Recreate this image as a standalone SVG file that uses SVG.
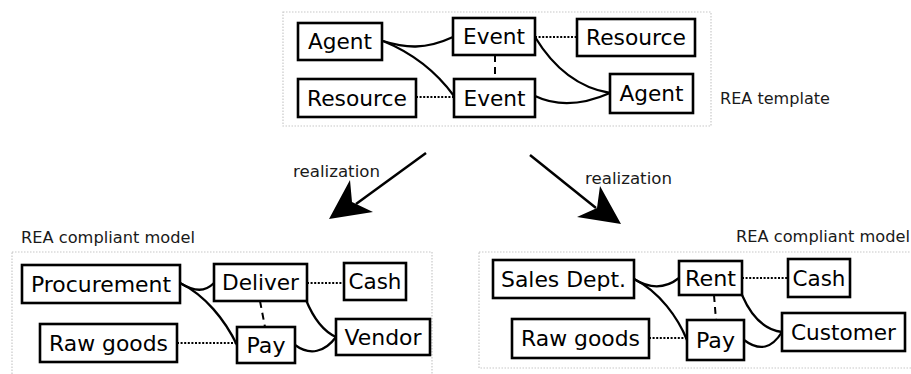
<svg xmlns="http://www.w3.org/2000/svg" width="911" height="374" viewBox="0 0 911 374">
  <style>
    .frame { fill: none; stroke: #c8c8c8; stroke-width: 1.2; stroke-dasharray: 1.5 1.5; }
    .box rect { fill: #fff; stroke: #000; stroke-width: 2.6; }
    .box text { font-family: "DejaVu Sans", Verdana, sans-serif; font-size: 21px; text-anchor: middle; fill: #000; }
    .lbl { font-family: "DejaVu Sans", Verdana, sans-serif; font-size: 15px; fill: #1a1a1a; }
    .rel { fill: none; stroke: #000; stroke-width: 2.3; }
    .res { fill: none; stroke: #000; stroke-width: 2; stroke-dasharray: 2 1.6; }
    .dup { fill: none; stroke: #000; stroke-width: 2; stroke-dasharray: 7 5; }
    .arr { fill: none; stroke: #000; stroke-width: 2.5; }
  </style>

  <!-- group frames -->
  <rect class="frame" x="283" y="12" width="428" height="114"/>
  <rect class="frame" x="12" y="252" width="420" height="130"/>
  <rect class="frame" x="479" y="252" width="440" height="116"/>

  <!-- captions -->
  <text class="lbl" x="720" y="104" textLength="110" lengthAdjust="spacingAndGlyphs">REA template</text>
  <text class="lbl" x="293" y="177" textLength="87" lengthAdjust="spacingAndGlyphs">realization</text>
  <text class="lbl" x="585" y="184" textLength="87" lengthAdjust="spacingAndGlyphs">realization</text>
  <text class="lbl" x="21" y="243" textLength="174" lengthAdjust="spacingAndGlyphs">REA compliant model</text>
  <text class="lbl" x="736" y="242" textLength="174" lengthAdjust="spacingAndGlyphs">REA compliant model</text>

  <!-- connectors -->
  <g id="connectors">
    <!-- template -->
    <path class="rel" d="M383,41 C405,48 425,50 453,37"/>
    <path class="rel" d="M383,41 C410,52 435,70 454,96"/>
    <path class="rel" d="M535,37 C555,70 580,88 610,93"/>
    <path class="rel" d="M535,96 C560,108 585,104 610,93"/>
    <path class="res" d="M535,37 H577"/>
    <path class="res" d="M416,97 H454"/>
    <path class="dup" d="M495,55 V79"/>

    <!-- procurement model -->
    <path class="rel" d="M180,283 C195,292 205,292 214,283"/>
    <path class="rel" d="M180,283 C205,295 225,320 237,345"/>
    <path class="rel" d="M306,300 C315,322 325,332 336,337"/>
    <path class="rel" d="M295,345 C310,356 325,352 336,337"/>
    <path class="res" d="M307,283 H344"/>
    <path class="res" d="M177,343 H237"/>
    <path class="dup" d="M260,301 L265,327"/>

    <!-- rental model -->
    <path class="rel" d="M634,279 C650,289 665,289 679,278"/>
    <path class="rel" d="M634,279 C660,292 678,318 687,340"/>
    <path class="rel" d="M742,295 C752,318 765,330 782,332"/>
    <path class="rel" d="M744,340 C760,352 772,348 782,332"/>
    <path class="res" d="M742,278 H788"/>
    <path class="res" d="M649,338 H687"/>
    <path class="dup" d="M714,295 L716,320"/>

    <!-- realization arrows -->
    <path class="arr" d="M426,153 L356,204"/>
    <path d="M329,219 L350,180 L352,202 L373,212 Z" fill="#000"/>
    <path class="arr" d="M530,155 L596,208"/>
    <path d="M621,224 L600,186 L597,208 L577,217 Z" fill="#000"/>
  </g>

  <!-- template nodes -->
  <g id="agent-top" class="box"><rect x="298" y="23" width="84" height="37"/><text x="340" y="49" textLength="64" lengthAdjust="spacingAndGlyphs">Agent</text></g>
  <g id="event-top" class="box"><rect x="453" y="18" width="82" height="37"/><text x="494" y="44" textLength="62" lengthAdjust="spacingAndGlyphs">Event</text></g>
  <g id="resource-top" class="box"><rect x="577" y="19" width="118" height="37"/><text x="636" y="45" textLength="100" lengthAdjust="spacingAndGlyphs">Resource</text></g>
  <g id="resource-bottom" class="box"><rect x="298" y="79" width="118" height="38"/><text x="357" y="106" textLength="100" lengthAdjust="spacingAndGlyphs">Resource</text></g>
  <g id="event-bottom" class="box"><rect x="454" y="79" width="81" height="38"/><text x="494.5" y="106" textLength="62" lengthAdjust="spacingAndGlyphs">Event</text></g>
  <g id="agent-bottom" class="box"><rect x="610" y="74" width="83" height="39"/><text x="651.5" y="101" textLength="64" lengthAdjust="spacingAndGlyphs">Agent</text></g>

  <!-- procurement model nodes -->
  <g id="procurement" class="box"><rect x="22" y="265" width="158" height="38"/><text x="101" y="292" textLength="140" lengthAdjust="spacingAndGlyphs">Procurement</text></g>
  <g id="deliver" class="box"><rect x="214" y="264" width="93" height="37"/><text x="260.5" y="290" textLength="77" lengthAdjust="spacingAndGlyphs">Deliver</text></g>
  <g id="cash-left" class="box"><rect x="344" y="263" width="62" height="37"/><text x="375" y="289" textLength="53" lengthAdjust="spacingAndGlyphs">Cash</text></g>
  <g id="raw-goods-left" class="box"><rect x="40" y="324" width="137" height="38"/><text x="108.5" y="351" textLength="119" lengthAdjust="spacingAndGlyphs">Raw goods</text></g>
  <g id="pay-left" class="box"><rect x="237" y="327" width="58" height="36"/><text x="266" y="353" textLength="39" lengthAdjust="spacingAndGlyphs">Pay</text></g>
  <g id="vendor" class="box"><rect x="336" y="319" width="94" height="36"/><text x="383" y="345" textLength="77" lengthAdjust="spacingAndGlyphs">Vendor</text></g>

  <!-- rental model nodes -->
  <g id="sales-dept" class="box"><rect x="493" y="260" width="141" height="38"/><text x="563.5" y="287" textLength="125" lengthAdjust="spacingAndGlyphs">Sales Dept.</text></g>
  <g id="rent" class="box"><rect x="679" y="261" width="63" height="34"/><text x="710.5" y="286" textLength="51" lengthAdjust="spacingAndGlyphs">Rent</text></g>
  <g id="cash-right" class="box"><rect x="788" y="259" width="62" height="38"/><text x="819" y="286" textLength="53" lengthAdjust="spacingAndGlyphs">Cash</text></g>
  <g id="raw-goods-right" class="box"><rect x="512" y="319" width="137" height="39"/><text x="580.5" y="346" textLength="119" lengthAdjust="spacingAndGlyphs">Raw goods</text></g>
  <g id="pay-right" class="box"><rect x="687" y="320" width="57" height="40"/><text x="715.5" y="348" textLength="39" lengthAdjust="spacingAndGlyphs">Pay</text></g>
  <g id="customer" class="box"><rect x="782" y="313" width="123" height="38"/><text x="843.5" y="340" textLength="105" lengthAdjust="spacingAndGlyphs">Customer</text></g>
</svg>
